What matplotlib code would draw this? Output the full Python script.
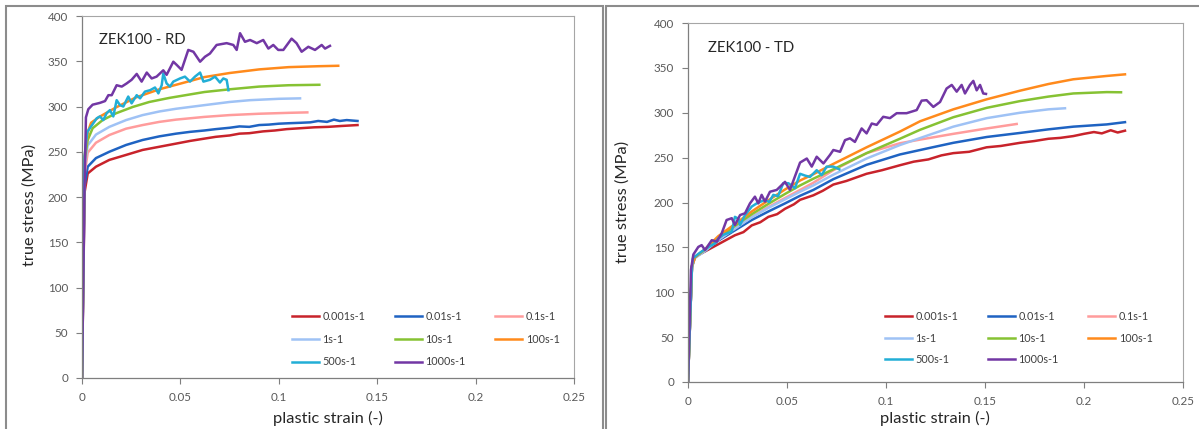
import matplotlib
matplotlib.use("Agg")
import matplotlib.pyplot as plt
from matplotlib.patches import Rectangle

plt.rcParams['font.family'] = ['Lato', 'DejaVu Sans']

labels = ["0.001s-1", "0.01s-1", "0.1s-1", "1s-1", "10s-1", "100s-1", "500s-1", "1000s-1"]
colors = ["#C8232B", "#1F63C2", "#FF9C9C", "#9FC2F5", "#86C233", "#FF8A1C", "#22AED6", "#7237A4"]

x_ticks = [0, 0.05, 0.1, 0.15, 0.2, 0.25]
x_ticklabels = ["0", "0.05", "0.1", "0.15", "0.2", "0.25"]
y_ticks = [0, 50, 100, 150, 200, 250, 300, 350, 400]

# ---------------- RD panel ----------------
rd_red_s = [0, 0.0013, 0.0029, 0.0071, 0.0139, 0.0224, 0.0308, 0.0393, 0.0478, 0.055, 0.0622, 0.068, 0.075, 0.08, 0.085, 0.092, 0.098, 0.104, 0.111, 0.118, 0.125, 0.132, 0.14]
rd_red_v = [0, 205, 226, 233.5, 241, 246.5, 252, 255.5, 259, 262, 264.5, 266.5, 268, 270, 270.5, 272.5, 273.5, 275, 276, 277, 277.5, 278.5, 279.5]

rd_blue_s = [0, 0.0013, 0.0029, 0.0071, 0.0139, 0.0224, 0.0308, 0.0393, 0.0478, 0.055, 0.0622, 0.068, 0.075, 0.08, 0.085, 0.09, 0.095, 0.1, 0.105, 0.111, 0.116, 0.12, 0.1245, 0.128, 0.131, 0.1345, 0.14]
rd_blue_v = [0, 212, 233.5, 243, 250, 257.5, 263, 267, 270, 272, 273.5, 275, 276.5, 278, 277.5, 279.5, 280, 281, 281.5, 282, 282.5, 284, 283, 285.5, 284, 285, 284]

rd_pink_s = [0, 0.0013, 0.0029, 0.0071, 0.0139, 0.0224, 0.0308, 0.0393, 0.0478, 0.0622, 0.075, 0.09, 0.105, 0.1145]
rd_pink_v = [0, 225, 249, 260, 268.5, 275.5, 279.5, 283, 285.5, 288.5, 290.5, 292, 293, 293.5]

rd_lblue_s = [0, 0.0013, 0.0029, 0.0071, 0.0139, 0.0224, 0.0308, 0.0393, 0.0478, 0.0622, 0.075, 0.0854, 0.1, 0.1108]
rd_lblue_v = [0, 235, 257, 269, 277.5, 285, 290.5, 294.5, 297.5, 301.5, 305, 307, 308.5, 309]

rd_green_s = [0, 0.0013, 0.0029, 0.0054, 0.0105, 0.0173, 0.0258, 0.0342, 0.0444, 0.0622, 0.075, 0.09, 0.105, 0.1206]
rd_green_v = [0, 240, 263, 276, 285, 292.5, 299.5, 305, 309.5, 316, 319, 322, 323.5, 324]

rd_orange_s = [0, 0.0013, 0.003, 0.0046, 0.0088, 0.0173, 0.0274, 0.0393, 0.0512, 0.0622, 0.075, 0.09, 0.105, 0.12, 0.1302]
rd_orange_v = [0, 245, 272, 282, 288.5, 299, 310, 319, 326, 332.5, 337, 341, 343.5, 344.5, 345]

rd_cyan_s = [0, 0.0013, 0.0027, 0.0075, 0.0091, 0.0108, 0.0125, 0.0142, 0.0159, 0.0176, 0.0193, 0.021, 0.0235, 0.0252, 0.0278, 0.0295, 0.032, 0.0346, 0.0371, 0.0388, 0.0405, 0.0413, 0.043, 0.0447, 0.0464, 0.0498, 0.0523, 0.0549, 0.0574, 0.06, 0.0617, 0.065, 0.0676, 0.0701, 0.0718, 0.0735, 0.0744]
rd_cyan_v = [0, 245, 272, 287, 289, 285, 292.5, 296, 289, 307, 301.5, 300, 311, 303.5, 312.5, 309, 316.5, 318, 321, 314.5, 323.5, 336.5, 325.5, 322, 327.5, 331, 333, 327.5, 333, 337.5, 327.5, 329.5, 333, 326.5, 331, 329.5, 318]

rd_purple_s = [0, 0.0012, 0.002, 0.0032, 0.0054, 0.0091, 0.0117, 0.0134, 0.0151, 0.0176, 0.0202, 0.0227, 0.0252, 0.0278, 0.0303, 0.0329, 0.0354, 0.0379, 0.0413, 0.043, 0.0464, 0.0481, 0.0506, 0.054, 0.0566, 0.06, 0.0625, 0.065, 0.0684, 0.0735, 0.0769, 0.0786, 0.0803, 0.0828, 0.0854, 0.0888, 0.0921, 0.0947, 0.0972, 0.0997, 0.1023, 0.1065, 0.109, 0.1116, 0.115, 0.1184, 0.1218, 0.1235, 0.126]
rd_purple_v = [0, 200, 288, 297, 302, 304, 306, 312.5, 312.5, 323.5, 322, 325.5, 329.5, 336, 327.5, 337.5, 331, 333, 340, 335, 349.5, 346, 340.5, 362.5, 360.5, 349.5, 355, 358.5, 368, 370, 368, 362.5, 381, 371.5, 373.5, 370, 373.5, 364, 368, 362.5, 362.5, 375, 370, 360.5, 366, 362.5, 368, 364, 367]

# ---------------- TD panel ----------------
td_red_s = [0, 0.002, 0.0035, 0.0086, 0.0153, 0.0237, 0.028, 0.0322, 0.0365, 0.0406, 0.045, 0.049, 0.0535, 0.0566, 0.0633, 0.068, 0.0734, 0.08, 0.0902, 0.098, 0.107, 0.114, 0.1214, 0.128, 0.134, 0.142, 0.1508, 0.158, 0.1677, 0.175, 0.182, 0.188, 0.1946, 0.2, 0.205, 0.209, 0.2135, 0.217, 0.2207]
td_red_v = [0, 128, 139.5, 145.5, 153.5, 163.5, 167, 174.5, 178, 184, 187, 193, 198, 203, 208, 213, 220, 224, 232, 236, 241.5, 245.5, 248, 252.5, 255, 256.5, 261.5, 263, 266.5, 268.5, 271, 272, 274, 276.5, 278.5, 277, 280.5, 278, 280]

td_blue_s = [0, 0.002, 0.0035, 0.0086, 0.0153, 0.0237, 0.0322, 0.0406, 0.049, 0.0566, 0.0633, 0.0734, 0.0902, 0.107, 0.1214, 0.134, 0.1509, 0.1677, 0.182, 0.1946, 0.2115, 0.2207]
td_blue_v = [0, 129, 139, 146, 157.5, 169, 180.5, 190, 199, 207.5, 214, 226, 242, 253.5, 260.5, 266.5, 273, 277.5, 281.5, 284.5, 287, 289.5]

td_pink_s = [0, 0.002, 0.0035, 0.0086, 0.0153, 0.0237, 0.0322, 0.0406, 0.049, 0.0566, 0.0633, 0.0734, 0.0902, 0.107, 0.117, 0.134, 0.1509, 0.166]
td_pink_v = [0, 129, 139, 146.5, 158.5, 171, 184, 195, 205, 214, 222, 236, 255, 266, 270, 276.5, 282.5, 287.5]

td_lblue_s = [0, 0.002, 0.0035, 0.0086, 0.0153, 0.0237, 0.0322, 0.0406, 0.049, 0.0566, 0.0633, 0.0734, 0.0902, 0.107, 0.1214, 0.134, 0.1509, 0.1677, 0.182, 0.1904]
td_lblue_v = [0, 128, 138, 146, 158.5, 171, 183.5, 194, 203.5, 212, 219, 231, 249, 264, 275, 284.5, 294, 300, 303.8, 305]

td_green_s = [0, 0.002, 0.0035, 0.0086, 0.0153, 0.0237, 0.0322, 0.0406, 0.049, 0.0566, 0.0633, 0.0734, 0.0902, 0.107, 0.1172, 0.134, 0.1509, 0.1677, 0.182, 0.1946, 0.2115, 0.2187]
td_green_v = [0, 129, 139, 147.5, 160.5, 174, 187, 198.5, 209.5, 219, 226.5, 237, 255, 271, 281, 295, 305.5, 313, 318, 321.5, 323, 322.8]

td_orange_s = [0, 0.002, 0.0035, 0.0086, 0.0153, 0.0237, 0.0322, 0.0406, 0.049, 0.0566, 0.0633, 0.0734, 0.0902, 0.107, 0.1172, 0.134, 0.1509, 0.1677, 0.182, 0.1946, 0.2115, 0.2207]
td_orange_v = [0, 129, 139, 148, 162.5, 176, 190, 202.5, 214.5, 224.5, 231.5, 243, 261.5, 279, 290.5, 303.8, 315, 324.6, 332, 337.3, 341, 342.8]

td_cyan_s = [0, 0.002, 0.0025, 0.006, 0.0103, 0.0136, 0.0153, 0.0178, 0.0221, 0.0237, 0.0254, 0.0263, 0.0288, 0.0322, 0.0347, 0.0389, 0.041, 0.0431, 0.0455, 0.0481, 0.0507, 0.054, 0.0566, 0.0591, 0.0616, 0.065, 0.0675, 0.07, 0.0734, 0.0764]
td_cyan_v = [0, 128, 138, 144, 150.5, 154.5, 160, 164, 167.5, 184, 182, 175, 186, 195.5, 199, 203, 200.5, 208.5, 207, 221.5, 221.5, 216, 232, 230, 228.5, 236, 230.5, 240, 240, 237]

td_purple_s = [0, 0.0015, 0.0027, 0.0052, 0.0069, 0.0086, 0.012, 0.0145, 0.017, 0.0195, 0.0221, 0.0237, 0.0263, 0.0288, 0.0313, 0.0338, 0.0355, 0.0372, 0.0389, 0.0414, 0.0448, 0.049, 0.0515, 0.054, 0.0566, 0.06, 0.0625, 0.065, 0.0684, 0.0717, 0.0734, 0.0768, 0.0793, 0.0818, 0.0843, 0.0877, 0.0902, 0.0928, 0.0953, 0.0986, 0.102, 0.1054, 0.1104, 0.1155, 0.118, 0.1205, 0.1239, 0.1273, 0.1306, 0.1332, 0.1357, 0.1382, 0.1399, 0.1424, 0.1441, 0.1458, 0.1475, 0.1491, 0.1505]
td_purple_v = [0, 125, 142, 150.5, 152.5, 147, 158, 156.5, 165.5, 180.5, 182.5, 175, 186, 188, 199, 206.5, 199, 208.5, 201, 212, 214, 223, 214, 229, 244.5, 249, 240, 251, 243.5, 253, 258.5, 256.5, 269.5, 271.5, 267.5, 282.5, 277, 288, 286.5, 295.5, 294, 299.5, 299.5, 303, 313.5, 314, 306.5, 312, 327, 331, 323.5, 331, 321.5, 331, 335.5, 325, 331, 321.5, 321]

rd_series = [(rd_red_s, rd_red_v), (rd_blue_s, rd_blue_v), (rd_pink_s, rd_pink_v),
             (rd_lblue_s, rd_lblue_v), (rd_green_s, rd_green_v), (rd_orange_s, rd_orange_v),
             (rd_cyan_s, rd_cyan_v), (rd_purple_s, rd_purple_v)]
td_series = [(td_red_s, td_red_v), (td_blue_s, td_blue_v), (td_pink_s, td_pink_v),
             (td_lblue_s, td_lblue_v), (td_green_s, td_green_v), (td_orange_s, td_orange_v),
             (td_cyan_s, td_cyan_v), (td_purple_s, td_purple_v)]

W, H = 1199, 429
fig = plt.figure(figsize=(W / 100, H / 100), dpi=100)

# panel frames
frame_col = "#8C8C8C"
fig.patches.append(Rectangle((6 / W, -0.05), (603 - 6) / W, 1 - 6 / H + 0.05, transform=fig.transFigure,
                             fill=False, edgecolor=frame_col, linewidth=1.5))
fig.patches.append(Rectangle((606 / W, -0.05), (1210 - 606) / W, 1 - 6 / H + 0.05, transform=fig.transFigure,
                             fill=False, edgecolor=frame_col, linewidth=1.5))

def px_rect(x0, x1, ytop, ybot):
    return [x0 / W, 1 - ybot / H, (x1 - x0) / W, (ybot - ytop) / H]

ax1 = fig.add_axes(px_rect(82, 574, 16, 378))
ax2 = fig.add_axes(px_rect(688, 1183, 23, 382))

# legend is filled row by row in the reference
leg_order = [0, 3, 6, 1, 4, 7, 2, 5]

tick_col = "#595959"
for ax, series, title, tpos, leg_anchor, lspace, ylab_x, ylab_y, xlab_x in [
        (ax1, rd_series, "ZEK100 - RD", (99, 40), (292, 311), 1.08, 30, 205, 328),
        (ax2, td_series, "ZEK100 - TD", (708, 48), (885, 311), 0.98, 623, 202, 935)]:
    handles = []
    for (s, v), c, lab in zip(series, colors, labels):
        h, = ax.plot(s, v, color=c, lw=1.8, label=lab, solid_joinstyle='round')
        handles.append(h)
    ax.set_xlim(0, 0.25)
    ax.set_ylim(0, 400)
    ax.set_xticks(x_ticks)
    ax.set_xticklabels(x_ticklabels)
    ax.set_yticks(y_ticks)
    ax.tick_params(direction='out', length=4, width=0.8, colors="#7F7F7F", labelcolor=tick_col,
                   labelsize=8.4, pad=6)
    for sp in ["left", "bottom"]:
        ax.spines[sp].set_color("#7F7F7F")
        ax.spines[sp].set_linewidth(0.9)
    for sp in ["top", "right"]:
        ax.spines[sp].set_color("#A6A6A6")
        ax.spines[sp].set_linewidth(0.8)
    fig.text(tpos[0] / W, 1 - tpos[1] / H, title, fontsize=10.7, color="#262626", va='center', ha='left')
    fig.text(ylab_x / W, 1 - ylab_y / H, "true stress (MPa)", rotation=90, fontsize=11.8, color="#262626",
             va='center', ha='center')
    fig.text(xlab_x / W, 1 - 418 / H, "plastic strain (-)", fontsize=11.8, color="#262626",
             va='center', ha='center')
    ax.legend([handles[i] for i in leg_order], [labels[i] for i in leg_order],
              loc='upper left', bbox_to_anchor=(leg_anchor[0] / W, 1 - leg_anchor[1] / H),
              bbox_transform=fig.transFigure, ncol=3, frameon=False, fontsize=7.8,
              handlelength=2.5, handletextpad=0.3, columnspacing=2.75, labelspacing=lspace,
              borderpad=0, borderaxespad=0, labelcolor="#404040")

fig.savefig("out.png", dpi=100)
